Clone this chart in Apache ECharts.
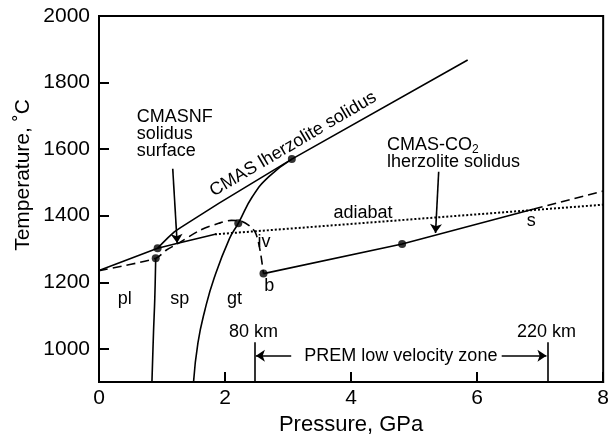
<!DOCTYPE html>
<html>
<head>
<meta charset="utf-8">
<script src="https://cdn.jsdelivr.net/npm/echarts@6/dist/echarts.min.js"></script>
<style>
  html, body { margin: 0; padding: 0; background: #fff; }
  #chart { width: 612px; height: 441px; }
</style>
</head>
<body>
<div id="chart"></div>
<script>
// tick values
const xTicks = [0, 2, 4, 6, 8]
const yTicks = [1000, 1200, 1400, 1600, 1800, 2000]

// curves, [pressure GPa, temperature C]
const cmasSolidus = [[0, 1235], [0.93, 1302], [1.0, 1316], [1.1, 1335], [1.2, 1352], [1.3, 1365], [1.4, 1377], [1.9, 1437], [3.06, 1570], [5.85, 1868]]
const lowPBranch = [[0.93, 1302], [1.25, 1317], [1.86, 1345]]
const adiabat = [[1.84, 1344], [8, 1433]]
const cmasnfSurface = [[0, 1235], [0.9, 1272], [1.07, 1297], [1.25, 1316], [1.6, 1356], [1.9, 1377], [2.1, 1386], [2.25, 1384], [2.4, 1368], [2.48, 1350], [2.53, 1320], [2.57, 1280], [2.61, 1226]]
const plSpBoundary = [[0.84, 900], [0.865, 1050], [0.885, 1150], [0.9, 1272]]
const spGtBoundary = [[1.5, 900], [1.57, 1018], [1.68, 1116], [1.83, 1214], [2.07, 1331], [2.21, 1377], [2.44, 1459], [2.7, 1518], [3.06, 1570]]
const co2Solidus = [[2.61, 1226], [4.81, 1315], [6.9, 1420]]
const co2Extension = [[6.9, 1420], [8, 1474]]
const points = [[0.93, 1302], [0.9, 1272], [2.21, 1377], [3.06, 1570], [4.81, 1315], [2.61, 1226]]

// arrows and PREM markers
const pointerArrows = [[[1.17, 1541], [1.24, 1318]], [[5.39, 1532], [5.34, 1348]]]
const premLines = [[[2.47, 900], [2.47, 1020]], [[7.12, 900], [7.12, 1020]]]
const premArrows = [[[3.05, 979], [2.49, 979]], [[6.39, 979], [7.10, 979]]]

// text labels
const notes = [
  { text: 'pl', at: [0.41, 1150] },
  { text: 'sp', at: [1.28, 1150] },
  { text: 'gt', at: [2.15, 1150] },
  { text: 'b', at: [2.70, 1188] },
  { text: 'iv', at: [2.62, 1321] },
  { text: 's', at: [6.86, 1385] },
  { text: 'adiabat', at: [4.19, 1409] },
  { text: '80 km', at: [2.45, 1050] },
  { text: '220 km', at: [7.10, 1050] },
  { text: 'PREM low velocity zone', at: [4.79, 979] }
]

const FONT = '"Liberation Sans", Arial, Helvetica, sans-serif'
const chart = echarts.init(document.getElementById('chart'))

function curve(data, type, smooth) {
  return {
    type: 'line',
    data: data,
    smooth: smooth || false,
    showSymbol: false,
    silent: true,
    lineStyle: { color: '#000', width: type === 'dotted' ? 2 : 1.6, type: type || 'solid' },
    z: 3
  }
}

function arrowSeries(list, withHead) {
  return {
    type: 'line',
    data: [],
    markLine: {
      silent: true,
      animation: false,
      symbol: withHead ? ['none', 'arrow'] : ['none', 'none'],
      symbolSize: 9,
      label: { show: false },
      itemStyle: { color: '#000' },
      lineStyle: { color: '#000', width: 1.6, type: 'solid' },
      data: list.map(s => [{ coord: s[0] }, { coord: s[1] }])
    }
  }
}

chart.setOption({
  animation: false,
  grid: { left: 99, right: 7, top: 16, bottom: 51, show: true, borderColor: '#000', borderWidth: 2 },
  xAxis: {
    type: 'value', min: 0, max: 8, interval: 2,
    name: 'Pressure, GPa', nameLocation: 'middle', nameGap: 26,
    nameTextStyle: { fontSize: 22, color: '#000', fontFamily: FONT },
    axisLine: { onZero: false, lineStyle: { color: '#000', width: 2 } },
    axisTick: { inside: true, length: 10, lineStyle: { color: '#000', width: 2 } },
    axisLabel: { fontSize: 21, color: '#000', fontFamily: FONT, margin: 6 },
    splitLine: { show: false }
  },
  yAxis: {
    type: 'value', min: 900, max: 2000,
    axisLine: { onZero: false, lineStyle: { color: '#000', width: 2 } },
    axisTick: { inside: true, length: 10, customValues: yTicks, lineStyle: { color: '#000', width: 2 } },
    axisLabel: { fontSize: 21, color: '#000', fontFamily: FONT, margin: 9, customValues: yTicks, formatter: v => String(v) },
    splitLine: { show: false }
  },
  series: [
    curve(cmasSolidus),
    curve(lowPBranch),
    curve(adiabat, 'dotted'),
    curve(cmasnfSurface, [9, 5], 0.3),
    curve(plSpBoundary, 'solid', 0.4),
    curve(spGtBoundary, 'solid', 0.5),
    curve(co2Solidus),
    curve(co2Extension, [9, 5]),
    {
      type: 'scatter', data: points, symbolSize: 8, silent: true, z: 5,
      itemStyle: { color: '#000' }
    },
    arrowSeries(pointerArrows, true),
    arrowSeries(premLines, false),
    arrowSeries(premArrows, true)
  ]
})

// place text with data coordinates
const px = p => chart.convertToPixel({ gridIndex: 0 }, p)
const textStyle = { fontSize: 18, fontFamily: FONT, fill: '#000' }
const graphics = notes.map(n => {
  const [x, y] = px(n.at)
  return { type: 'text', x: x, y: y, style: Object.assign({ text: n.text, align: 'center', verticalAlign: 'middle' }, textStyle) }
})

let p = px([0.60, 1722])
graphics.push({ type: 'text', x: p[0], y: p[1], style: Object.assign({ text: 'CMASNF\nsolidus\nsurface', lineHeight: 17, align: 'left', verticalAlign: 'top' }, textStyle) })

p = px([4.57, 1637])
graphics.push({
  type: 'text', x: p[0], y: p[1],
  style: {
    text: '{m|CMAS-CO}{s|2}\n{m|lherzolite solidus}',
    align: 'left', verticalAlign: 'top', fontFamily: FONT, fill: '#000',
    rich: {
      m: { fontSize: 18, lineHeight: 17, fontFamily: FONT, fill: '#000' },
      s: { fontSize: 12, lineHeight: 17, fontFamily: FONT, fill: '#000', padding: [9, 0, 0, 0] }
    }
  }
})

p = px([3.08, 1615])
graphics.push({
  type: 'text', x: p[0], y: p[1], rotation: 30.5 * Math.PI / 180,
  style: Object.assign({ text: 'CMAS lherzolite solidus', align: 'center', verticalAlign: 'middle' }, textStyle)
})

graphics.push({
  type: 'text', x: 23, y: 175, rotation: Math.PI / 2,
  style: { text: 'Temperature, ˚C', fontSize: 21, fontFamily: FONT, fill: '#000', align: 'center', verticalAlign: 'middle' }
})

chart.setOption({ graphic: graphics })
</script>
</body>
</html>
